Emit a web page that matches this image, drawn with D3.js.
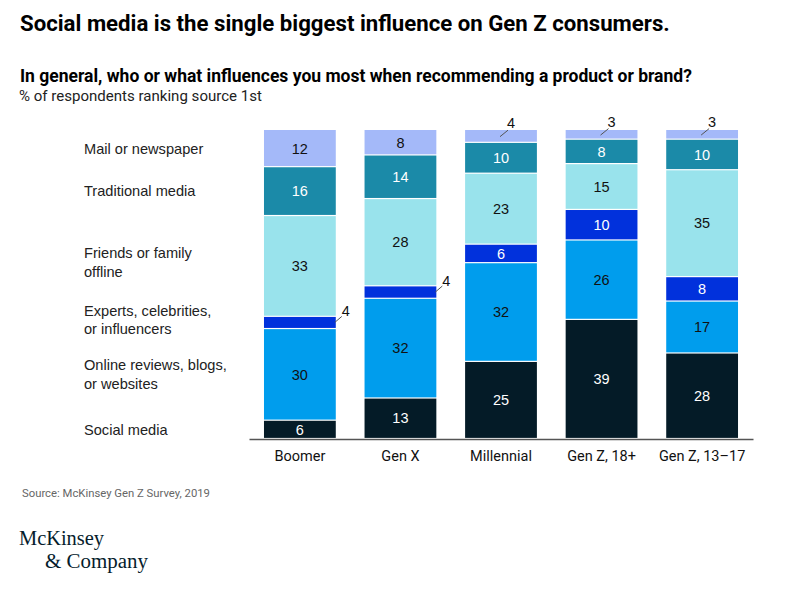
<!DOCTYPE html>
<html>
<head>
<meta charset="utf-8">
<script src="https://cdn.jsdelivr.net/npm/d3@7"></script>
<style>
  html, body { margin: 0; padding: 0; background: #fff; }
  svg { display: block; }
</style>
</head>
<body>
<script>
// ---------- data ----------
const categories = ["Boomer", "Gen X", "Millennial", "Gen Z, 18+", "Gen Z, 13–17"];
const seriesNames = [
  "Social media",
  "Online reviews, blogs, or websites",
  "Experts, celebrities, or influencers",
  "Friends or family offline",
  "Traditional media",
  "Mail or newspaper"
];
const legendLines = [
  ["Social media"],
  ["Online reviews, blogs,", "or websites"],
  ["Experts, celebrities,", "or influencers"],
  ["Friends or family", "offline"],
  ["Traditional media"],
  ["Mail or newspaper"]
];
const socialMedia   = [6, 13, 25, 39, 28];
const onlineReviews = [30, 32, 32, 26, 17];
const experts       = [4, 4, 6, 10, 8];
const friends       = [33, 28, 23, 15, 35];
const traditional   = [16, 14, 10, 8, 10];
const mail          = [12, 8, 4, 3, 3];
const seriesValues = [socialMedia, onlineReviews, experts, friends, traditional, mail];
const colors = ["#041b27", "#009ded", "#0131dc", "#99e3ec", "#1b8aa8", "#a4b9f9"];
const labelColors = ["#ffffff", "#111111", "#ffffff", "#111111", "#ffffff", "#111111"];

const title = "Social media is the single biggest influence on Gen Z consumers.";
const subtitle = "In general, who or what influences you most when recommending a product or brand?";
const unitNote = "% of respondents ranking source 1st";
const source = "Source: McKinsey Gen Z Survey, 2019";

// ---------- build table ----------
const table = categories.map((c, i) => {
  const row = { category: c };
  seriesNames.forEach((s, j) => row[s] = seriesValues[j][i]);
  return row;
});
const stacked = d3.stack().keys(seriesNames).offset(d3.stackOffsetExpand)(table);

// ---------- svg ----------
const W = 798, H = 605;
const svg = d3.select("body").append("svg").attr("width", W).attr("height", H);

const sansBody = "'Liberation Sans', Arial, Helvetica, sans-serif";
const sansHead = "Roboto, 'Liberation Sans', Arial, sans-serif";

function fit(sel, target) {
  const node = sel.node();
  const fs = parseFloat(sel.attr("font-size"));
  const w = node.getComputedTextLength();
  if (w > 0) sel.attr("font-size", (fs * target / w).toFixed(2));
  return sel;
}

// titles
fit(svg.append("text").attr("x", 20).attr("y", 31)
  .attr("font-family", sansHead).attr("font-weight", 700).attr("font-size", 20)
  .attr("fill", "#000").text(title), 650);
fit(svg.append("text").attr("x", 20).attr("y", 81.5)
  .attr("font-family", sansHead).attr("font-weight", 700).attr("font-size", 15.5)
  .attr("fill", "#000").text(subtitle), 672);
fit(svg.append("text").attr("x", 19).attr("y", 100.5)
  .attr("font-family", sansHead).attr("font-weight", 400).attr("font-size", 14)
  .attr("fill", "#222").text(unitNote), 243);

// scales
const x = d3.scaleBand().domain(categories).range([249, 753])
  .paddingInner(0.286).paddingOuter(0.149);
const y = d3.scaleLinear().domain([0, 1]).range([438.5, 130]);

// bars
const g = svg.append("g");
const layers = g.selectAll("g.layer").data(stacked).join("g")
  .attr("class", "layer").attr("fill", (d, i) => colors[i]);
layers.selectAll("rect").data(d => d.map(p => Object.assign(p, { key: d.key, idx: d.index }))).join("rect")
  .attr("x", d => x(d.data.category))
  .attr("width", x.bandwidth())
  .attr("y", d => y(d[1]) + (d.idx === seriesNames.length - 1 ? 0 : 0.6))
  .attr("height", d => Math.max(0, y(d[0]) - y(d[1]) - (d.idx === seriesNames.length - 1 ? 0.6 : 1.2)));

// axis baseline
const axis = svg.append("g").attr("transform", "translate(0,439)")
  .call(d3.axisBottom(x).tickSize(0).tickPadding(12));
axis.select(".domain").attr("stroke", "#555").attr("stroke-width", 1.3);
axis.selectAll("text").attr("font-family", sansHead).attr("font-size", 14.5).attr("fill", "#111");

// value labels
const labelG = svg.append("g").attr("font-family", sansBody).attr("font-size", 14.5);
stacked.forEach((layer, i) => {
  layer.forEach(p => {
    const v = p.data[layer.key];
    const cx = x(p.data.category) + x.bandwidth() / 2;
    const y0 = y(p[0]), y1 = y(p[1]), ym = (y0 + y1) / 2;
    if (v > 4) {
      labelG.append("text").attr("x", cx).attr("y", ym).attr("dy", "0.36em")
        .attr("text-anchor", "middle").attr("fill", labelColors[i]).text(v);
    } else if (i === seriesNames.length - 1) {
      labelG.append("line").attr("x1", cx - 1).attr("y1", ym + 0.5).attr("x2", cx + 7).attr("y2", ym - 6)
        .attr("stroke", "#555").attr("stroke-width", 1);
      labelG.append("text").attr("x", cx + 10).attr("y", ym - 8)
        .attr("text-anchor", "middle").attr("fill", "#111").text(v);
    } else {
      const xr = x(p.data.category) + x.bandwidth();
      labelG.append("line").attr("x1", xr - 1).attr("y1", ym).attr("x2", xr + 6).attr("y2", ym - 6)
        .attr("stroke", "#555").attr("stroke-width", 1);
      labelG.append("text").attr("x", xr + 10).attr("y", ym - 6.5)
        .attr("text-anchor", "middle").attr("fill", "#111").text(v);
    }
  });
});

// legend labels on the left, aligned with the first bar's segments
const first = categories[0];
const legG = svg.append("g").attr("font-family", sansBody).attr("font-size", 14.6).attr("fill", "#222");
const lineH = 18.5;
const legShift = [0, 0, -2.5, -3.5, 0, 0];
stacked.forEach((layer, i) => {
  const p = layer.find(q => q.data.category === first);
  const ym = (y(p[0]) + y(p[1])) / 2 + legShift[i];
  const lines = legendLines[i];
  const startY = ym - (lines.length - 1) * lineH / 2;
  const t = legG.append("text").attr("x", 84);
  lines.forEach((ln, k) => {
    t.append("tspan").attr("x", 84).attr("y", startY + k * lineH).attr("dy", "0.36em").text(ln);
  });
});

// source
fit(svg.append("text").attr("x", 22).attr("y", 496.5)
  .attr("font-family", sansHead).attr("font-size", 10.5).attr("fill", "#666").text(source), 188);

// logo
const logo = svg.append("g").attr("font-family", "'Liberation Serif', 'DejaVu Serif', Georgia, serif").attr("fill", "#051c2c");
logo.append("text").attr("x", 19).attr("y", 545).attr("font-size", 20)
  .attr("textLength", 85).attr("lengthAdjust", "spacingAndGlyphs").text("McKinsey");
logo.append("text").attr("x", 45).attr("y", 567.5).attr("font-size", 20)
  .attr("textLength", 103).attr("lengthAdjust", "spacingAndGlyphs").text("& Company");
</script>
</body>
</html>
